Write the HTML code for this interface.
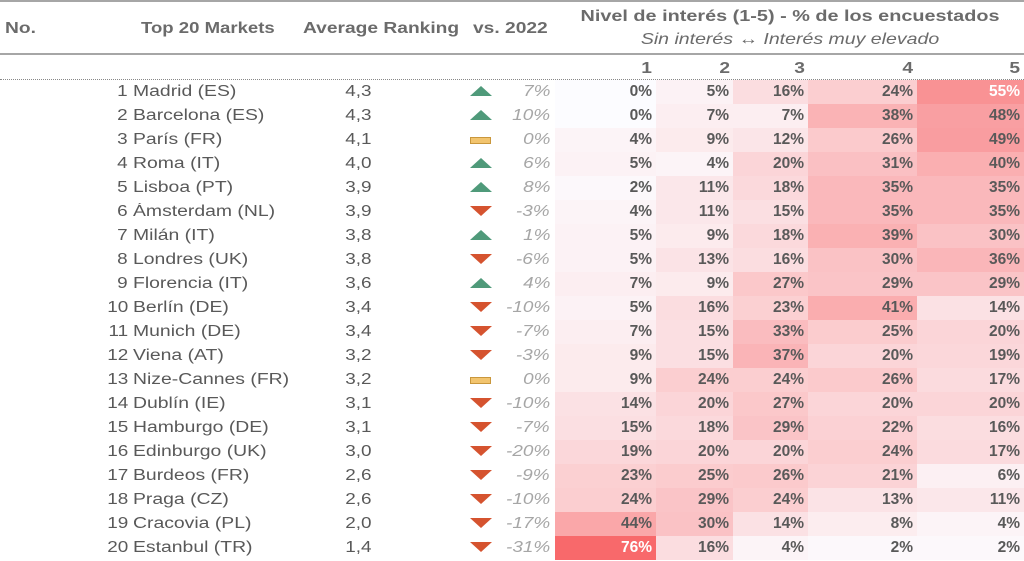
<!DOCTYPE html>
<html><head><meta charset="utf-8"><style>
body{margin:0;width:1024px;height:561px;background:#fff;overflow:hidden;position:relative;font-family:"Liberation Sans",Arial,sans-serif;color:#595959}
.h{position:absolute;font-weight:bold;font-size:16px;color:#6b6b6b;white-space:nowrap;transform:scaleX(1.2);transform-origin:left}
.hr{transform-origin:right}
.hc{transform-origin:center}
.r{position:absolute;left:0;width:1024px;height:24px;font-size:15.5px;line-height:24px}
.r span{position:absolute;top:0;height:24px;white-space:nowrap}
.n{right:896px;text-align:right;transform:scaleX(1.22);transform-origin:right}
.m{left:133px;transform:scaleX(1.25);transform-origin:left}
.a{right:652px;transform:scaleX(1.22);transform-origin:right}
.d{right:474px;font-style:italic;color:#a6a6a6;transform:scaleX(1.22);transform-origin:right}
.up,.dn,.fl{left:470px;width:0;height:0}
.up{top:6px!important;height:0!important;border-left:11px solid transparent;border-right:11px solid transparent;border-bottom:10px solid #4f9a7a}
.dn{top:6px!important;height:0!important;border-left:11px solid transparent;border-right:11px solid transparent;border-top:10px solid #d5532f}
.fl{top:9px!important;height:5px!important;width:19px!important;background:#f2c46e;border:1px solid #c9973c}
.c{text-align:right;font-weight:bold;box-sizing:border-box;padding-right:4px;background:rgb(calc(252 - var(--v)*0.0526) calc(252 - var(--v)*1.934) calc(255 - var(--v)*1.947))}
.c1{left:555px;width:101px}.c2{left:656px;width:77px}.c3{left:733px;width:75px}.c4{left:808px;width:109px}.c5{left:917px;width:107px}
.w{color:#fff}
</style></head><body>
<div style="position:absolute;left:0;top:0;width:1024px;height:2px;background:#a6a6a6"></div>
<div class="h" style="left:5px;top:20px">No.</div>
<div class="h" style="left:141px;top:20px;transform:scaleX(1.16)">Top 20 Markets</div>
<div class="h" style="left:303px;top:20px">Average Ranking</div>
<div class="h" style="left:473px;top:20px">vs. 2022</div>
<div class="h hc" style="left:580px;top:8px;width:420px;text-align:center;transform:scaleX(1.24)">Nivel de interés (1-5) - % de los encuestados</div>
<div class="h hc" style="left:580px;top:31px;width:420px;text-align:center;font-weight:normal;font-style:italic;transform:scaleX(1.22)">Sin interés ↔ Interés muy elevado</div>
<div style="position:absolute;left:0;top:53px;width:1024px;height:2px;background:#a6a6a6"></div>
<div class="h hr" style="left:555px;top:60px;width:97px;text-align:right">1</div>
<div class="h hr" style="left:656px;top:60px;width:74px;text-align:right">2</div>
<div class="h hr" style="left:733px;top:60px;width:72px;text-align:right">3</div>
<div class="h hr" style="left:808px;top:60px;width:105px;text-align:right">4</div>
<div class="h hr" style="left:917px;top:60px;width:103px;text-align:right">5</div>
<div style="position:absolute;left:0;top:79px;width:1024px;border-top:1px dotted #888"></div>

<div class="r" style="top:80px"><span class="n">1</span><span class="m">Madrid (ES)</span><span class="a">4,3</span><span class="up"></span><span class="d">7%</span><span class="c c1" style="--v:0">0%</span><span class="c c2" style="--v:5">5%</span><span class="c c3" style="--v:16">16%</span><span class="c c4" style="--v:24">24%</span><span class="c c5 w" style="--v:55">55%</span></div>
<div class="r" style="top:104px"><span class="n">2</span><span class="m">Barcelona (ES)</span><span class="a">4,3</span><span class="up"></span><span class="d">10%</span><span class="c c1" style="--v:0">0%</span><span class="c c2" style="--v:7">7%</span><span class="c c3" style="--v:7">7%</span><span class="c c4" style="--v:38">38%</span><span class="c c5" style="--v:48">48%</span></div>
<div class="r" style="top:128px"><span class="n">3</span><span class="m">París (FR)</span><span class="a">4,1</span><span class="fl"></span><span class="d">0%</span><span class="c c1" style="--v:4">4%</span><span class="c c2" style="--v:9">9%</span><span class="c c3" style="--v:12">12%</span><span class="c c4" style="--v:26">26%</span><span class="c c5" style="--v:49">49%</span></div>
<div class="r" style="top:152px"><span class="n">4</span><span class="m">Roma (IT)</span><span class="a">4,0</span><span class="up"></span><span class="d">6%</span><span class="c c1" style="--v:5">5%</span><span class="c c2" style="--v:4">4%</span><span class="c c3" style="--v:20">20%</span><span class="c c4" style="--v:31">31%</span><span class="c c5" style="--v:40">40%</span></div>
<div class="r" style="top:176px"><span class="n">5</span><span class="m">Lisboa (PT)</span><span class="a">3,9</span><span class="up"></span><span class="d">8%</span><span class="c c1" style="--v:2">2%</span><span class="c c2" style="--v:11">11%</span><span class="c c3" style="--v:18">18%</span><span class="c c4" style="--v:35">35%</span><span class="c c5" style="--v:35">35%</span></div>
<div class="r" style="top:200px"><span class="n">6</span><span class="m">Ámsterdam (NL)</span><span class="a">3,9</span><span class="dn"></span><span class="d">-3%</span><span class="c c1" style="--v:4">4%</span><span class="c c2" style="--v:11">11%</span><span class="c c3" style="--v:15">15%</span><span class="c c4" style="--v:35">35%</span><span class="c c5" style="--v:35">35%</span></div>
<div class="r" style="top:224px"><span class="n">7</span><span class="m">Milán (IT)</span><span class="a">3,8</span><span class="up"></span><span class="d">1%</span><span class="c c1" style="--v:5">5%</span><span class="c c2" style="--v:9">9%</span><span class="c c3" style="--v:18">18%</span><span class="c c4" style="--v:39">39%</span><span class="c c5" style="--v:30">30%</span></div>
<div class="r" style="top:248px"><span class="n">8</span><span class="m">Londres (UK)</span><span class="a">3,8</span><span class="dn"></span><span class="d">-6%</span><span class="c c1" style="--v:5">5%</span><span class="c c2" style="--v:13">13%</span><span class="c c3" style="--v:16">16%</span><span class="c c4" style="--v:30">30%</span><span class="c c5" style="--v:36">36%</span></div>
<div class="r" style="top:272px"><span class="n">9</span><span class="m">Florencia (IT)</span><span class="a">3,6</span><span class="up"></span><span class="d">4%</span><span class="c c1" style="--v:7">7%</span><span class="c c2" style="--v:9">9%</span><span class="c c3" style="--v:27">27%</span><span class="c c4" style="--v:29">29%</span><span class="c c5" style="--v:29">29%</span></div>
<div class="r" style="top:296px"><span class="n">10</span><span class="m">Berlín (DE)</span><span class="a">3,4</span><span class="dn"></span><span class="d">-10%</span><span class="c c1" style="--v:5">5%</span><span class="c c2" style="--v:16">16%</span><span class="c c3" style="--v:23">23%</span><span class="c c4" style="--v:41">41%</span><span class="c c5" style="--v:14">14%</span></div>
<div class="r" style="top:320px"><span class="n">11</span><span class="m">Munich (DE)</span><span class="a">3,4</span><span class="dn"></span><span class="d">-7%</span><span class="c c1" style="--v:7">7%</span><span class="c c2" style="--v:15">15%</span><span class="c c3" style="--v:33">33%</span><span class="c c4" style="--v:25">25%</span><span class="c c5" style="--v:20">20%</span></div>
<div class="r" style="top:344px"><span class="n">12</span><span class="m">Viena (AT)</span><span class="a">3,2</span><span class="dn"></span><span class="d">-3%</span><span class="c c1" style="--v:9">9%</span><span class="c c2" style="--v:15">15%</span><span class="c c3" style="--v:37">37%</span><span class="c c4" style="--v:20">20%</span><span class="c c5" style="--v:19">19%</span></div>
<div class="r" style="top:368px"><span class="n">13</span><span class="m">Nize-Cannes (FR)</span><span class="a">3,2</span><span class="fl"></span><span class="d">0%</span><span class="c c1" style="--v:9">9%</span><span class="c c2" style="--v:24">24%</span><span class="c c3" style="--v:24">24%</span><span class="c c4" style="--v:26">26%</span><span class="c c5" style="--v:17">17%</span></div>
<div class="r" style="top:392px"><span class="n">14</span><span class="m">Dublín (IE)</span><span class="a">3,1</span><span class="dn"></span><span class="d">-10%</span><span class="c c1" style="--v:14">14%</span><span class="c c2" style="--v:20">20%</span><span class="c c3" style="--v:27">27%</span><span class="c c4" style="--v:20">20%</span><span class="c c5" style="--v:20">20%</span></div>
<div class="r" style="top:416px"><span class="n">15</span><span class="m">Hamburgo (DE)</span><span class="a">3,1</span><span class="dn"></span><span class="d">-7%</span><span class="c c1" style="--v:15">15%</span><span class="c c2" style="--v:18">18%</span><span class="c c3" style="--v:29">29%</span><span class="c c4" style="--v:22">22%</span><span class="c c5" style="--v:16">16%</span></div>
<div class="r" style="top:440px"><span class="n">16</span><span class="m">Edinburgo (UK)</span><span class="a">3,0</span><span class="dn"></span><span class="d">-20%</span><span class="c c1" style="--v:19">19%</span><span class="c c2" style="--v:20">20%</span><span class="c c3" style="--v:20">20%</span><span class="c c4" style="--v:24">24%</span><span class="c c5" style="--v:17">17%</span></div>
<div class="r" style="top:464px"><span class="n">17</span><span class="m">Burdeos (FR)</span><span class="a">2,6</span><span class="dn"></span><span class="d">-9%</span><span class="c c1" style="--v:23">23%</span><span class="c c2" style="--v:25">25%</span><span class="c c3" style="--v:26">26%</span><span class="c c4" style="--v:21">21%</span><span class="c c5" style="--v:6">6%</span></div>
<div class="r" style="top:488px"><span class="n">18</span><span class="m">Praga (CZ)</span><span class="a">2,6</span><span class="dn"></span><span class="d">-10%</span><span class="c c1" style="--v:24">24%</span><span class="c c2" style="--v:29">29%</span><span class="c c3" style="--v:24">24%</span><span class="c c4" style="--v:13">13%</span><span class="c c5" style="--v:11">11%</span></div>
<div class="r" style="top:512px"><span class="n">19</span><span class="m">Cracovia (PL)</span><span class="a">2,0</span><span class="dn"></span><span class="d">-17%</span><span class="c c1" style="--v:44">44%</span><span class="c c2" style="--v:30">30%</span><span class="c c3" style="--v:14">14%</span><span class="c c4" style="--v:8">8%</span><span class="c c5" style="--v:4">4%</span></div>
<div class="r" style="top:536px"><span class="n">20</span><span class="m">Estanbul (TR)</span><span class="a">1,4</span><span class="dn"></span><span class="d">-31%</span><span class="c c1 w" style="--v:76">76%</span><span class="c c2" style="--v:16">16%</span><span class="c c3" style="--v:4">4%</span><span class="c c4" style="--v:2">2%</span><span class="c c5" style="--v:2">2%</span></div>
</body></html>
